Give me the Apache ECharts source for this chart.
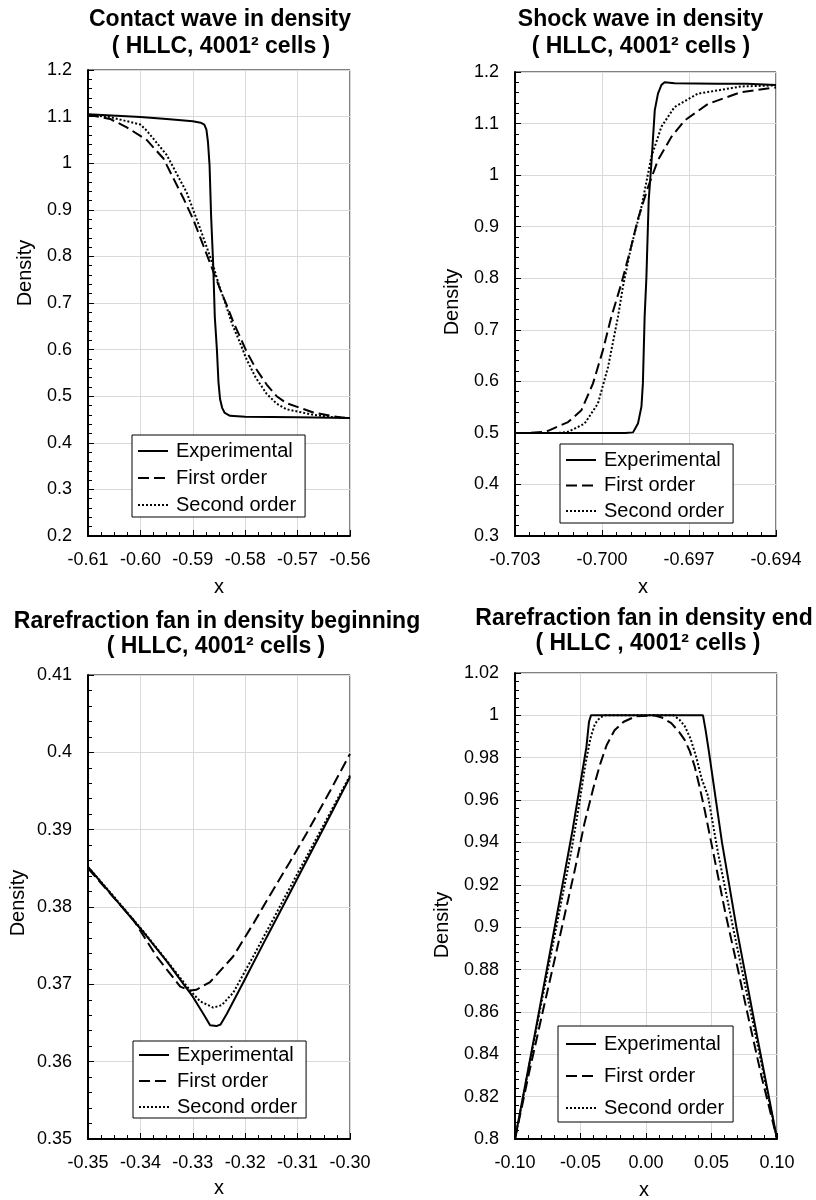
<!DOCTYPE html>
<html>
<head>
<meta charset="utf-8">
<script src="https://cdn.jsdelivr.net/npm/echarts@6/dist/echarts.min.js"></script>
<style>
html, body { margin: 0; padding: 0; background: #ffffff; }
#chart { width: 816px; height: 1200px; }
</style>
</head>
<body>
<div id="chart"></div>
<script>
// ---- Series names ----
const seriesNames = ['Experimental', 'First order', 'Second order'];

// ---- Contact wave (x, density) ----
const contactExperimental = [[-0.61,1.105],[-0.6,1.099],[-0.595,1.095],[-0.59,1.09],[-0.5885,1.087],[-0.5878,1.083],[-0.5874,1.072],[-0.5871,1.045],[-0.5868,0.995],[-0.5865,0.885],[-0.5861,0.78],[-0.5858,0.67],[-0.5854,0.6],[-0.5851,0.53],[-0.5848,0.494],[-0.5844,0.475],[-0.5839,0.464],[-0.5829,0.458],[-0.58,0.456],[-0.57,0.455],[-0.56,0.453]];
const contactFirst = [[-0.61,1.104],[-0.6058,1.095],[-0.6026,1.077],[-0.5988,1.05],[-0.5956,1.01],[-0.5918,0.925],[-0.5899,0.879],[-0.5874,0.806],[-0.5859,0.762],[-0.5848,0.73],[-0.5835,0.695],[-0.5823,0.66],[-0.5797,0.595],[-0.578,0.56],[-0.5759,0.525],[-0.574,0.5],[-0.5721,0.485],[-0.567,0.465],[-0.5632,0.457],[-0.56,0.452]];
const contactSecond = [[-0.61,1.104],[-0.6058,1.099],[-0.6,1.083],[-0.5988,1.07],[-0.595,1.018],[-0.5912,0.938],[-0.5886,0.86],[-0.5861,0.78],[-0.585,0.738],[-0.5838,0.7],[-0.5825,0.655],[-0.581,0.615],[-0.5797,0.578],[-0.578,0.54],[-0.5759,0.505],[-0.574,0.484],[-0.5721,0.472],[-0.567,0.46],[-0.5632,0.455],[-0.56,0.453]];

// ---- Shock wave (x, density) ----
const shockExperimental = [[-0.703,0.5],[-0.7,0.5],[-0.6992,0.5],[-0.69893,0.501],[-0.69876,0.518],[-0.69864,0.551],[-0.69859,0.596],[-0.69853,0.725],[-0.69847,0.8],[-0.69839,0.951],[-0.6983,1.02],[-0.69818,1.126],[-0.69807,1.158],[-0.69795,1.175],[-0.69784,1.18],[-0.6975,1.178],[-0.696,1.177],[-0.695,1.177],[-0.694,1.175]];
const shockFirst = [[-0.703,0.5],[-0.7025,0.5],[-0.702,0.502],[-0.70186,0.504],[-0.70117,0.521],[-0.70071,0.544],[-0.70031,0.596],[-0.69997,0.66],[-0.69968,0.725],[-0.69933,0.79],[-0.699,0.86],[-0.69876,0.915],[-0.69841,0.977],[-0.69807,1.029],[-0.69761,1.074],[-0.69715,1.106],[-0.69635,1.138],[-0.6952,1.161],[-0.694,1.17]];
const shockSecond = [[-0.703,0.5],[-0.7015,0.5],[-0.70117,0.502],[-0.7006,0.518],[-0.70014,0.557],[-0.69979,0.628],[-0.69945,0.725],[-0.69928,0.783],[-0.699,0.86],[-0.69864,0.938],[-0.6983,1.035],[-0.69795,1.094],[-0.6975,1.132],[-0.69669,1.158],[-0.6952,1.172],[-0.694,1.174]];

// ---- Rarefaction fan, beginning (x, density) ----
const fanStartExperimental = [[-0.35,0.3852],[-0.3445,0.3808],[-0.3395,0.3768],[-0.335,0.373],[-0.33,0.3684],[-0.328,0.3662],[-0.3267,0.3647],[-0.3255,0.3646],[-0.3247,0.3648],[-0.3235,0.3662],[-0.3204,0.3702],[-0.3159,0.3761],[-0.3121,0.381],[-0.3095,0.3844],[-0.3048,0.3905],[-0.3,0.3968]];
const fanStartFirst = [[-0.35,0.385],[-0.3413,0.3783],[-0.3369,0.3736],[-0.3324,0.3697],[-0.3305,0.3692],[-0.3293,0.3693],[-0.3267,0.3703],[-0.3223,0.3736],[-0.3184,0.3779],[-0.3159,0.3808],[-0.3115,0.3858],[-0.3083,0.3895],[-0.3038,0.395],[-0.3,0.3998]];
const fanStartSecond = [[-0.35,0.3852],[-0.3445,0.3809],[-0.3395,0.3769],[-0.335,0.3731],[-0.3305,0.3692],[-0.3286,0.3678],[-0.3261,0.367],[-0.3245,0.3673],[-0.3223,0.3689],[-0.3184,0.3737],[-0.3146,0.3785],[-0.3121,0.3817],[-0.3048,0.3909],[-0.3,0.397]];

// ---- Rarefaction fan, end (x, density) ----
const fanEndExperimental = [[-0.1,0.8],[-0.085,0.849],[-0.07,0.899],[-0.056,0.946],[-0.0455,0.985],[-0.0435,0.997],[-0.042,1.0],[0,1.0],[0.0435,1.0],[0.0455,0.993],[0.048,0.983],[0.058,0.94],[0.069,0.9],[0.085,0.848],[0.1,0.8]];
const fanEndFirst = [[-0.1,0.8],[-0.089,0.832],[-0.0785,0.861],[-0.07,0.884],[-0.062,0.906],[-0.054,0.928],[-0.047,0.949],[-0.0405,0.965],[-0.035,0.977],[-0.03,0.986],[-0.024,0.993],[-0.017,0.997],[-0.008,0.9995],[0.006,1.0],[0.012,0.999],[0.0193,0.9963],[0.0255,0.992],[0.0295,0.9884],[0.0335,0.983],[0.0372,0.9758],[0.041,0.966],[0.0448,0.9553],[0.0524,0.932],[0.0605,0.907],[0.0702,0.88],[0.0779,0.858],[0.088,0.83],[0.1,0.8]];
const fanEndSecond = [[-0.1,0.8],[-0.085,0.848],[-0.0685,0.9],[-0.057,0.936],[-0.051,0.958],[-0.0465,0.976],[-0.0425,0.989],[-0.039,0.996],[-0.035,0.999],[-0.031,1.0],[0,1.0],[0.021,1.0],[0.0255,0.998],[0.0295,0.995],[0.034,0.989],[0.0385,0.98],[0.0425,0.97],[0.0473,0.962],[0.055,0.935],[0.0664,0.9],[0.085,0.845],[0.1,0.8]];

// ---- Axis ranges: [min, max, interval, minor divisions, label decimals] ----
const contactXAxis = [-0.61, -0.56, 0.01, 4, 2];
const contactYAxis = [0.2, 1.2, 0.1, 5];
const shockXAxis = [-0.703, -0.694, 0.003, 6, 3];
const shockYAxis = [0.3, 1.2, 0.1, 5];
const fanStartXAxis = [-0.35, -0.30, 0.01, 4, 2];
const fanStartYAxis = [0.35, 0.41, 0.01, 5];
const fanEndXAxis = [-0.10, 0.10, 0.05, 5, 2];
const fanEndYAxis = [0.8, 1.02, 0.02, 5];

// ---- Titles ----
const titles = [
  ['Contact wave in density', '( HLLC, 4001\u00B2 cells )'],
  ['Shock wave in density', '( HLLC, 4001\u00B2 cells )'],
  ['Rarefraction fan in density beginning', '( HLLC, 4001\u00B2 cells )'],
  ['Rarefraction fan in density end', '( HLLC , 4001\u00B2 cells )']
];
const xAxisName = 'x';
const yAxisName = 'Density';

const FONT = '"Liberation Sans", Arial, Helvetica, sans-serif';

// Plot boxes for the four panels
const panels = [
  { left: 88,  top: 70,  width: 262, height: 466,
    x: contactXAxis, y: contactYAxis, data: [contactExperimental, contactFirst, contactSecond],
    title: [220, 20, 221, 47], xName: [219, 587], yName: [25, 273],
    legend: { left: 132, top: 435, gap: 7, pad: [6, 9, 2, 5] } },
  { left: 515, top: 72,  width: 261, height: 464,
    x: shockXAxis, y: shockYAxis, data: [shockExperimental, shockFirst, shockSecond],
    title: [640.5, 20, 641, 47], xName: [643, 587], yName: [452, 302],
    legend: { left: 560, top: 444, gap: 5.5, pad: [6, 9, 2, 5] } },
  { left: 88,  top: 675, width: 262, height: 464,
    x: fanStartXAxis, y: fanStartYAxis, data: [fanStartExperimental, fanStartFirst, fanStartSecond],
    title: [217, 622, 216, 647], xName: [219, 1188], yName: [18, 903],
    legend: { left: 133, top: 1041, gap: 6, pad: [4, 9, 1, 5] } },
  { left: 515, top: 673, width: 262, height: 466,
    x: fanEndXAxis, y: fanEndYAxis, data: [fanEndExperimental, fanEndFirst, fanEndSecond],
    title: [644, 619, 648, 644], xName: [644, 1190], yName: [442, 925],
    legend: { left: 558, top: 1026, gap: 12, pad: [8, 9, 4, 7] } }
];

const lineStyles = [
  { color: '#000', width: 2, type: 'solid' },
  { color: '#000', width: 2, type: [11, 5] },
  { color: '#000', width: 2, type: [2, 2] }
];

function fmtFixed(d) {
  return function (v) {
    if (Math.abs(v) < 1e-12) v = 0;
    return v.toFixed(d);
  };
}

function axisCommon(gridIndex, range) {
  return {
    type: 'value',
    gridIndex: gridIndex,
    min: range[0],
    max: range[1],
    interval: range[2],
    axisLine: { show: true, onZero: false, lineStyle: { color: '#000', width: 2 } },
    axisTick: { show: true, inside: true, length: 6, lineStyle: { color: '#000', width: 1 } },
    minorTick: { show: true, splitNumber: range[3], length: 4, lineStyle: { color: '#000', width: 1 } },
    splitLine: { show: true, lineStyle: { color: '#d9d9d9', width: 1 } },
    minorSplitLine: { show: false },
    axisLabel: { show: true, fontSize: 18, color: '#000', fontFamily: FONT,
                 showMinLabel: true, showMaxLabel: true, hideOverlap: false }
  };
}

const grids = [], xAxes = [], yAxes = [], series = [], legends = [], texts = [];

panels.forEach(function (p, i) {
  grids.push({ left: p.left, top: p.top, width: p.width, height: p.height,
               show: true, borderColor: '#000', borderWidth: 1, backgroundColor: 'transparent' });

  const xa = axisCommon(i, p.x);
  xa.axisLabel.margin = 15;
  xa.axisLabel.formatter = fmtFixed(p.x[4]);
  xAxes.push(xa);

  const ya = axisCommon(i, p.y);
  ya.axisLabel.margin = 16;
  yAxes.push(ya);

  p.data.forEach(function (d, k) {
    series.push({
      type: 'line', name: seriesNames[k], xAxisIndex: i, yAxisIndex: i,
      data: d, symbol: 'none', showSymbol: false, smooth: false,
      lineStyle: lineStyles[k], itemStyle: { color: '#000' },
      silent: true, animation: false, z: 3 + k
    });
  });

  legends.push({
    data: seriesNames.slice(), orient: 'vertical',
    left: p.legend.left, top: p.legend.top,
    itemWidth: 30, itemHeight: 20, itemGap: p.legend.gap,
    padding: p.legend.pad,
    backgroundColor: '#fff', borderColor: '#000', borderWidth: 1, borderRadius: 0,
    selectedMode: false, z: 10,
    // line sample only, no marker on it
    itemStyle: { color: 'rgba(0,0,0,0)', borderColor: 'rgba(0,0,0,0)', borderWidth: 0 },
    textStyle: { fontSize: 20, color: '#000', fontFamily: FONT, padding: [0, 0, 0, 3] }
  });

  texts.push({ type: 'text', x: p.title[0], y: p.title[1], z: 20,
    style: { text: titles[i][0], fontSize: 23, fontWeight: 'bold', fontFamily: FONT,
             fill: '#000', align: 'center', verticalAlign: 'middle' } });
  texts.push({ type: 'text', x: p.title[2], y: p.title[3], z: 20,
    style: { text: titles[i][1], fontSize: 23, fontWeight: 'bold', fontFamily: FONT,
             fill: '#000', align: 'center', verticalAlign: 'middle' } });
  texts.push({ type: 'text', x: p.xName[0], y: p.xName[1], z: 20,
    style: { text: xAxisName, fontSize: 20, fontFamily: FONT,
             fill: '#000', align: 'center', verticalAlign: 'middle' } });
  texts.push({ type: 'text', x: p.yName[0], y: p.yName[1], rotation: Math.PI / 2, z: 20,
    style: { text: yAxisName, fontSize: 20, fontFamily: FONT,
             fill: '#000', align: 'center', verticalAlign: 'middle' } });
});

const chart = echarts.init(document.getElementById('chart'), null, { renderer: 'canvas' });
chart.setOption({
  animation: false,
  backgroundColor: '#ffffff',
  grid: grids,
  xAxis: xAxes,
  yAxis: yAxes,
  legend: legends,
  series: series,
  graphic: texts
});
</script>
</body>
</html>
